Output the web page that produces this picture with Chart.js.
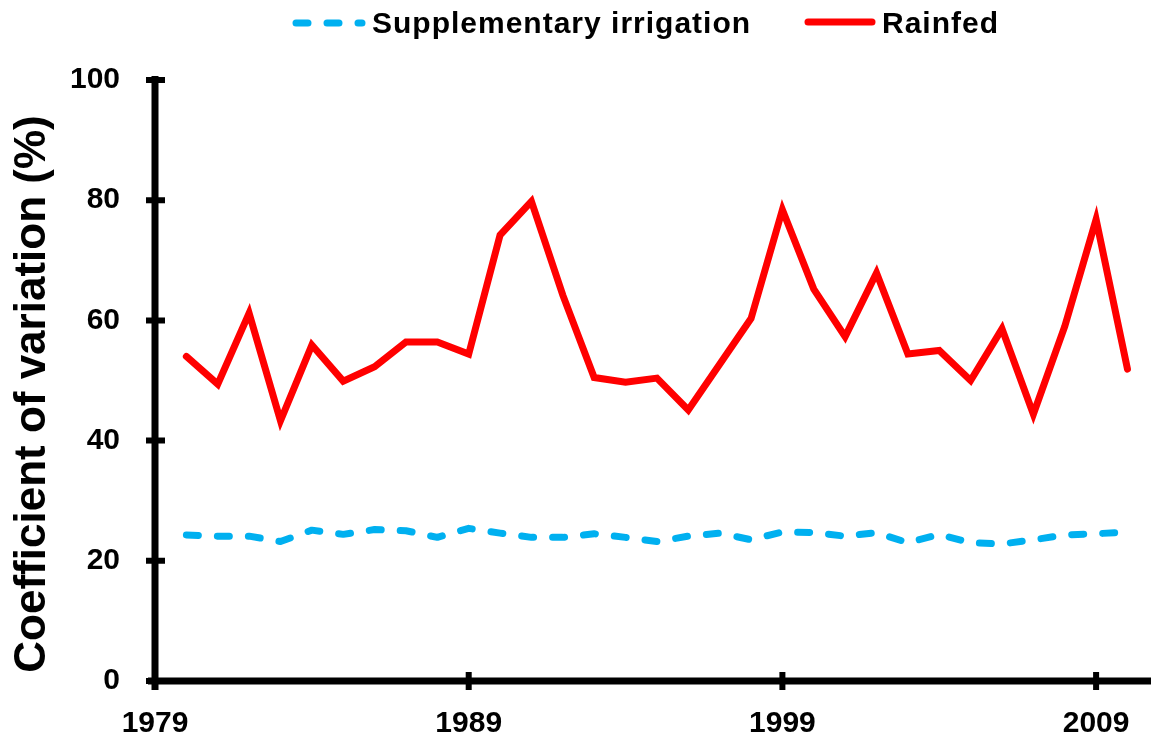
<!DOCTYPE html>
<html>
<head>
<meta charset="utf-8">
<script src="https://cdn.jsdelivr.net/npm/chart.js@4.4.1/dist/chart.umd.min.js"></script>
<style>
  html, body { margin: 0; padding: 0; background: #fff; }
  #wrap { position: relative; width: 1151px; height: 733px; }
  #legend { position: absolute; left: 0; top: 0; width: 1151px; height: 45px; font-family: "Liberation Sans", Arial, sans-serif; font-weight: bold; font-size: 30px; letter-spacing: 1px; color: #000; }
  #legend span { position: absolute; top: 8px; line-height: 30px; white-space: nowrap; }
  #legend svg { position: absolute; left: 0; top: 0; }
</style>
</head>
<body>
<div id="wrap">
  <canvas id="cvChart" width="1151" height="733"></canvas>
  <div id="legend">
    <svg width="1151" height="45">
      <line x1="296" y1="23" x2="362" y2="23" stroke="#00b0f0" stroke-width="7" stroke-linecap="round" stroke-dasharray="12 19"></line>
      <line x1="808" y1="22" x2="872" y2="22" stroke="#ff0000" stroke-width="7" stroke-linecap="round"></line>
    </svg>
    <span style="left:372px">Supplementary irrigation</span>
    <span style="left:882px">Rainfed</span>
  </div>
</div>
<script>
// years on the x axis
let years = [1980, 1981, 1982, 1983, 1984, 1985, 1986, 1987, 1988, 1989,
             1990, 1991, 1992, 1993, 1994, 1995, 1996, 1997, 1998, 1999,
             2000, 2001, 2002, 2003, 2004, 2005, 2006, 2007, 2008, 2009, 2010];

// coefficient of variation (%), rainfed
let rainfed = [54.0, 49.4, 61.2, 43.3, 55.9, 49.9, 52.3, 56.4, 56.4, 54.4,
               74.2, 79.8, 64.2, 50.5, 49.7, 50.4, 45.1, 52.7, 60.3, 78.4,
               65.2, 57.3, 67.9, 54.4, 55.0, 50.0, 58.6, 44.4, 59.0, 76.8, 51.9];

// coefficient of variation (%), supplementary irrigation
let irrigation = [24.3, 24.1, 24.1, 23.2, 25.1, 24.4, 25.2, 25.0, 23.9, 25.4,
                  24.6, 23.9, 23.9, 24.5, 23.9, 23.2, 24.1, 24.6, 23.5, 24.8,
                  24.7, 24.1, 24.7, 23.0, 24.4, 23.0, 22.8, 23.5, 24.3, 24.5, 24.8];

// tick labels
let xTicks = [1979, 1989, 1999, 2009];
let yTicks = [0, 20, 40, 60, 80, 100];
let yTitle = "Coefficient of variation (%)";

let toPoints = arr => years.map((y, i) => ({ x: y, y: arr[i] }));

let fontFamily = '"Liberation Sans", Arial, sans-serif';

// draws the axis lines with crossing tick marks and the rotated y title
let axisPlugin = {
  id: 'axisPlugin',
  afterDraw(chart) {
    let ctx = chart.ctx;
    let xs = chart.scales.x;
    let ys = chart.scales.y;
    let area = chart.chartArea;
    ctx.save();
    ctx.strokeStyle = '#000';
    ctx.lineCap = 'butt';

    // axis lines
    ctx.lineWidth = 7;
    ctx.beginPath();
    ctx.moveTo(area.left, ys.getPixelForValue(100) - 4);
    ctx.lineTo(area.left, area.bottom + 9);
    ctx.moveTo(area.left - 7, area.bottom);
    ctx.lineTo(chart.width, area.bottom);
    ctx.stroke();

    // tick marks across the axes
    ctx.lineWidth = 6;
    ctx.beginPath();
    yTicks.forEach(v => {
      let py = ys.getPixelForValue(v);
      ctx.moveTo(area.left - 9, py);
      ctx.lineTo(area.left + 10, py);
    });
    xTicks.forEach(v => {
      let px = xs.getPixelForValue(v);
      ctx.moveTo(px, area.bottom - 9);
      ctx.lineTo(px, area.bottom + 9);
    });
    ctx.stroke();

    // y axis title
    ctx.translate(33, 394);
    ctx.rotate(-Math.PI / 2);
    ctx.fillStyle = '#000';
    ctx.font = 'bold 44px ' + fontFamily;
    ctx.textAlign = 'center';
    ctx.textBaseline = 'middle';
    ctx.fillText(yTitle, 0, 0);
    ctx.restore();
  }
};

let ctx = document.getElementById('cvChart').getContext('2d');
let cvChart = new Chart(ctx, {
  type: 'line',
  data: {
    datasets: [{
      label: 'Supplementary irrigation',
      data: toPoints(irrigation),
      borderColor: '#00b0f0',
      borderWidth: 7,
      borderDash: [12, 19],
      borderCapStyle: 'round',
      borderJoinStyle: 'round',
      pointRadius: 0,
      tension: 0,
      fill: false
    }, {
      label: 'Rainfed',
      data: toPoints(rainfed),
      borderColor: '#ff0000',
      borderWidth: 7,
      borderCapStyle: 'round',
      borderJoinStyle: 'miter',
      pointRadius: 0,
      tension: 0,
      fill: false
    }]
  },
  options: {
    responsive: false,
    animation: false,
    layout: { padding: { top: 80, left: 0, right: 0, bottom: 0 } },
    plugins: {
      legend: { display: false },
      tooltip: { enabled: false }
    },
    scales: {
      x: {
        type: 'linear',
        min: 1979,
        max: 2010.75,
        grid: { display: false },
        border: { display: false },
        afterBuildTicks: s => { s.ticks = xTicks.map(v => ({ value: v })); },
        afterFit: s => { s.height = 52; },
        ticks: {
          color: '#000',
          padding: 17,
          autoSkip: false,
          maxRotation: 0,
          font: { family: fontFamily, size: 30, weight: 'bold' },
          callback: v => String(v)
        }
      },
      y: {
        min: 0,
        max: 100,
        grid: { display: false },
        border: { display: false },
        afterBuildTicks: s => { s.ticks = yTicks.map(v => ({ value: v })); },
        afterFit: s => { s.width = 155; },
        ticks: {
          color: '#000',
          padding: 27,
          font: { family: fontFamily, size: 30, weight: 'bold' },
          callback: v => String(v)
        }
      }
    }
  },
  plugins: [axisPlugin]
});
</script>
</body>
</html>
